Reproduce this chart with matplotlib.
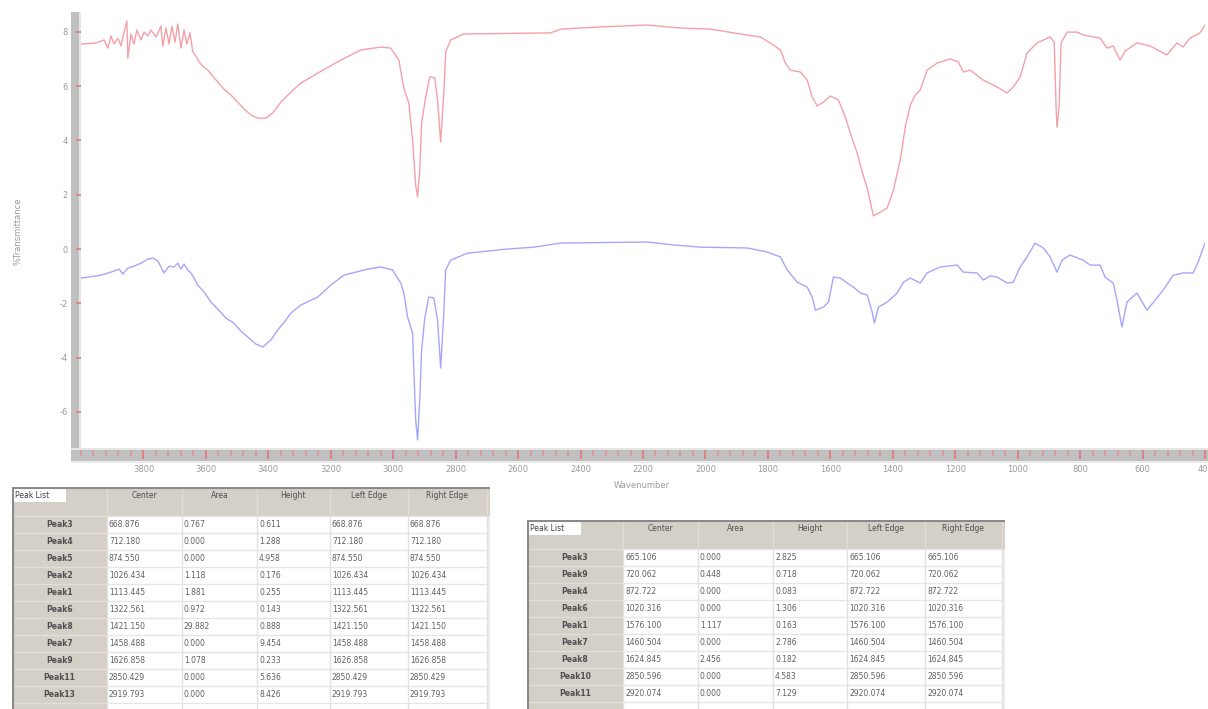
import matplotlib.pyplot as plt
from matplotlib.patches import Rectangle
from matplotlib.ticker import MultipleLocator
import numpy as np

plt.rcParams['axes.unicode_minus'] = False

W, H = 1208, 709

# upper spectrum (red), wavenumber in cm-1 and %T
red_wn = [4000, 3952, 3926, 3914, 3904, 3894, 3882, 3872, 3862, 3853, 3850, 3840, 3830,
          3821, 3808, 3798, 3786, 3776, 3760, 3744, 3738, 3728, 3718, 3709, 3699, 3690,
          3680, 3670, 3661, 3651, 3642, 3632, 3622, 3610, 3594, 3578, 3562, 3542, 3520,
          3498, 3478, 3456, 3434, 3408, 3386, 3360, 3328, 3296, 3242, 3168, 3104, 3040,
          3008, 2982, 2966, 2950, 2938, 2928, 2922, 2915, 2909, 2896, 2883, 2867, 2858,
          2848, 2838, 2832, 2816, 2774, 2496, 2464, 2336, 2186, 2080, 1984, 1866, 1824,
          1782, 1760, 1744, 1728, 1696, 1674, 1658, 1642, 1622, 1600, 1574, 1552, 1536,
          1514, 1498, 1482, 1462, 1440, 1418, 1398, 1376, 1360, 1344, 1328, 1312, 1290,
          1258, 1216, 1190, 1174, 1152, 1110, 1066, 1034, 1014, 992, 970, 938, 896, 883,
          877, 874, 867, 861, 842, 810, 790, 736, 714, 694, 672, 656, 618, 576, 522, 490,
          470, 448, 416, 400]
red_t = [7.55, 7.59, 7.70, 7.40, 7.85, 7.55, 7.77, 7.48, 7.99, 8.40, 7.03, 7.92, 7.55,
         8.07, 7.70, 7.99, 7.85, 8.07, 7.81, 8.21, 7.48, 8.14, 7.55, 8.21, 7.62, 8.29,
         7.40, 8.07, 7.55, 7.96, 7.26, 7.11, 6.89, 6.74, 6.59, 6.37, 6.15, 5.89, 5.67,
         5.41, 5.16, 4.94, 4.82, 4.82, 5.01, 5.41, 5.78, 6.11, 6.48, 6.96, 7.33, 7.44,
         7.40, 6.96, 5.93, 5.38, 4.01, 2.36, 1.92, 2.91, 4.64, 5.60, 6.34, 6.30, 5.49,
         3.94, 5.75, 7.26, 7.70, 7.92, 7.96, 8.10, 8.18, 8.25, 8.14, 8.10, 7.88, 7.81,
         7.51, 7.33, 6.85, 6.59, 6.52, 6.22, 5.60, 5.27, 5.41, 5.64, 5.49, 4.86, 4.27,
         3.54, 2.84, 2.25, 1.22, 1.36, 1.51, 2.17, 3.28, 4.49, 5.30, 5.67, 5.86, 6.59,
         6.85, 7.00, 6.89, 6.52, 6.59, 6.22, 5.97, 5.75, 5.97, 6.34, 7.22, 7.59, 7.81, 7.62,
         5.23, 4.49, 5.30, 7.59, 7.99, 7.99, 7.88, 7.77, 7.40, 7.48, 6.96, 7.29, 7.59, 7.48,
         7.15, 7.59, 7.44, 7.77, 7.96, 8.25]

# lower spectrum (blue)
blue_wn = [4000, 3936, 3904, 3878, 3866, 3850, 3830, 3808, 3786, 3770, 3754, 3734, 3718,
           3702, 3690, 3680, 3670, 3658, 3648, 3638, 3626, 3606, 3584, 3562, 3536, 3510,
           3488, 3466, 3440, 3418, 3392, 3370, 3344, 3328, 3296, 3242, 3200, 3158, 3082,
           3040, 3002, 2976, 2966, 2954, 2938, 2934, 2928, 2922, 2915, 2909, 2899, 2886,
           2870, 2858, 2848, 2838, 2832, 2816, 2762, 2634, 2550, 2464, 2186, 2102, 2016,
           1866, 1802, 1760, 1738, 1706, 1674, 1658, 1648, 1622, 1606, 1590, 1568, 1546,
           1526, 1504, 1482, 1466, 1459, 1446, 1418, 1386, 1366, 1344, 1312, 1290, 1248,
           1194, 1174, 1130, 1110, 1088, 1066, 1034, 1014, 992, 970, 944, 918, 896, 874,
           858, 832, 790, 768, 736, 720, 694, 682, 666, 650, 618, 586, 554, 534, 502, 470,
           438, 422, 400]
blue_t = [-1.07, -0.96, -0.85, -0.74, -0.92, -0.70, -0.63, -0.52, -0.37, -0.33, -0.44,
          -0.88, -0.63, -0.66, -0.52, -0.74, -0.55, -0.77, -0.88, -1.07, -1.33, -1.58,
          -1.95, -2.21, -2.54, -2.73, -3.02, -3.24, -3.50, -3.61, -3.35, -2.98, -2.62,
          -2.36, -2.06, -1.77, -1.33, -0.96, -0.74, -0.66, -0.77, -1.25, -1.62, -2.50,
          -3.09, -4.46, -6.30, -7.03, -5.56, -3.72, -2.54, -1.77, -1.80, -2.62, -4.38,
          -2.36, -0.77, -0.41, -0.15, 0.00, 0.07, 0.22, 0.26, 0.15, 0.07, 0.04, -0.11,
          -0.29, -0.77, -1.22, -1.40, -1.77, -2.25, -2.14, -1.95, -1.03, -1.07, -1.25,
          -1.40, -1.62, -1.69, -2.32, -2.73, -2.14, -1.95, -1.62, -1.22, -1.07, -1.25,
          -0.88, -0.66, -0.59, -0.85, -0.88, -1.14, -0.99, -1.03, -1.25, -1.22, -0.66,
          -0.29, 0.22, 0.04, -0.29, -0.85, -0.41, -0.22, -0.41, -0.59, -0.59, -1.03,
          -1.25, -1.88, -2.87, -1.95, -1.62, -2.25, -1.80, -1.51, -0.96, -0.88, -0.88,
          -0.48, 0.22]

x_ticks = list(range(3800, 399, -200))
y_ticks = [-6, -4, -2, 0, 2, 4, 6, 8]

# peak tables
headers = ["Center", "Area", "Height", "Left Edge", "Right Edge"]

names_1 = ["Peak3", "Peak4", "Peak5", "Peak2", "Peak1", "Peak6", "Peak8", "Peak7",
           "Peak9", "Peak11", "Peak13"]
center_1 = [668.876, 712.180, 874.550, 1026.434, 1113.445, 1322.561, 1421.150,
            1458.488, 1626.858, 2850.429, 2919.793]
area_1 = [0.767, 0.000, 0.000, 1.118, 1.881, 0.972, 29.882, 0.000, 1.078, 0.000, 0.000]
height_1 = [0.611, 1.288, 4.958, 0.176, 0.255, 0.143, 0.888, 9.454, 0.233, 5.636, 8.426]

names_2 = ["Peak3", "Peak9", "Peak4", "Peak6", "Peak1", "Peak7", "Peak8", "Peak10",
           "Peak11"]
center_2 = [665.106, 720.062, 872.722, 1020.316, 1576.100, 1460.504, 1624.845,
            2850.596, 2920.074]
area_2 = [0.000, 0.448, 0.000, 0.000, 1.117, 0.000, 2.456, 0.000, 0.000]
height_2 = [2.825, 0.718, 0.083, 1.306, 0.163, 2.786, 0.182, 4.583, 7.129]

fig = plt.figure(figsize=(W / 100, H / 100), dpi=100)


def fig_rect(x, y, w, h, color):
    # rectangle given in pixels from the top-left corner
    fig.add_artist(Rectangle((x / W, 1 - (y + h) / H), w / W, h / H,
                             transform=fig.transFigure, facecolor=color,
                             edgecolor='none', zorder=-1))


# grey frame bars of the spectrum window
fig_rect(71, 12, 8, 450, '#c0c0c0')
fig_rect(79, 12, 2, 436, '#e6e6e6')
fig_rect(71, 448, 1137, 2, '#e6e6e6')
fig_rect(71, 450, 1137, 11, '#c0c0c0')
fig_rect(71, 461, 1137, 2, '#ececec')

ax = fig.add_axes([81 / W, (H - 450) / H, (1205 - 81) / W, (450 - 12) / H])
ax.patch.set_visible(False)
ax.plot(red_wn, red_t, color='#f4a0a9', lw=1.0)
ax.plot(blue_wn, blue_t, color='#a6a6fb', lw=1.0)
ax.set_xlim(4000, 400)
ax.set_ylim(-7.40, 8.73)
for s in ax.spines.values():
    s.set_visible(False)

ax.set_xticks(x_ticks)
ax.xaxis.set_minor_locator(MultipleLocator(40))
ax.set_yticks(y_ticks)
ax.tick_params(axis='x', which='major', direction='out', length=6.5, width=1.3,
               color='#e07c7c', labelsize=6, labelcolor='#9a9a9a', pad=4)
ax.tick_params(axis='x', which='minor', direction='out', length=4.5, width=1.1,
               color='#e29090')
ax.tick_params(axis='y', direction='out', length=3.6, width=1.2, color='#e07c7c',
               labelsize=6, labelcolor='#9a9a9a', pad=6)

fig.text(18 / W, 1 - 231 / H, "%Transmittance", rotation=90, ha='center', va='center',
         fontsize=6, color='#9a9a9a')
fig.text(642 / W, 1 - 486 / H, "Wavenumber", ha='center', va='center',
         fontsize=6, color='#9a9a9a')

GREY = '#d4d0c8'


def draw_table(x0, y0, width, height, label_w, col_w, names, centers, areas, heights):
    tax = fig.add_axes([x0 / W, 1 - (y0 + height) / H, width / W, height / H])
    tax.set_xlim(0, width)
    tax.set_ylim(height, 0)
    tax.axis('off')
    header_h, row_h = 29, 17
    edges = np.concatenate([[label_w], label_w + np.cumsum(col_w)])
    tax.add_patch(Rectangle((0, 0), width, header_h, facecolor=GREY, edgecolor='none'))
    tax.add_patch(Rectangle((0, header_h), label_w, height, facecolor=GREY,
                            edgecolor='none'))
    tax.add_patch(Rectangle((edges[-1], header_h), width - edges[-1], height,
                            facecolor='#ececec', edgecolor='none'))
    # grid
    n = len(names)
    for i in range(n + 1):
        yy = header_h + i * row_h
        tax.plot([label_w, edges[-1]], [yy, yy], color='#e6e6e6', lw=1)
        tax.plot([0, label_w], [yy, yy], color='#e2dfd8', lw=1)
    for e in edges:
        tax.plot([e, e], [header_h, height], color='#e2e2e2', lw=1)
        tax.plot([e, e], [0, header_h], color='#e0ddd6', lw=1)
    tax.plot([0, width], [0.5, 0.5], color='#8a8a8a', lw=1.5)
    tax.plot([0.7, 0.7], [0, height], color='#8a8a8a', lw=1.5)
    # "Peak List" label box
    tax.add_patch(Rectangle((1.5, 2), 52, 13, facecolor='white', edgecolor='none'))
    tax.text(3, 8.5, "Peak List", fontsize=5.5, color='#404040', va='center')
    for j, hd in enumerate(headers):
        tax.text((edges[j] + edges[j + 1]) / 2, 8.5, hd, fontsize=5.5, color='#505050',
                 ha='center', va='center')
    for i in range(n):
        yc = header_h + (i + 0.5) * row_h
        tax.text(label_w / 2, yc, names[i], fontsize=5.5, color='#505050',
                 ha='center', va='center', fontweight='bold')
        vals = [centers[i], areas[i], heights[i], centers[i], centers[i]]
        for j, v in enumerate(vals):
            tax.text(edges[j] + 2, yc, f"{v:.3f}", fontsize=5.5, color='#606060',
                     ha='left', va='center')


draw_table(12, 487, 478, 222, 95, [75, 75, 73, 78, 79],
           names_1, center_1, area_1, height_1)
draw_table(527, 520, 478, 189, 96, [75, 75, 74, 78, 77],
           names_2, center_2, area_2, height_2)

fig.savefig("out.png", dpi=100)
